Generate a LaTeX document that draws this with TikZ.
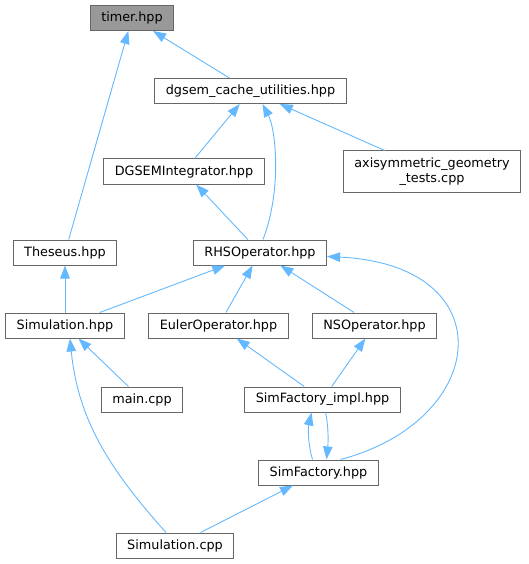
\documentclass[tikz,border=0pt]{standalone}
\usepackage{fontspec}
\setmainfont{DejaVu Sans}
\usetikzlibrary{arrows.meta}
\definecolor{edgeblue}{RGB}{99,184,255}
\definecolor{boxgray}{RGB}{102,102,102}
\definecolor{rootgray}{RGB}{153,153,153}

\begin{document}
\begin{tikzpicture}[x=1pt,y=-1pt,
	file/.style={draw=boxgray,fill=white,line width=1pt,minimum height=25pt,inner xsep=11pt,inner ysep=2pt,font=\fontsize{12.8}{15}\selectfont},
	root/.style={file,fill=rootgray},
	edge/.style={draw=edgeblue,line width=0.9pt,-{Triangle[length=13pt,width=9.5pt]}}]
	\useasboundingbox (0,0) rectangle (529,564);
	% files
	\node[root] (timer) at (132,18) {timer.hpp};
	\node[file] (dgsem) at (250.5,91) {dgsem\_cache\_utilities.hpp};
	\node[file,align=center,minimum height=41pt] (axisym) at (432,171.5) {axisymmetric\_geometry\\\_tests.cpp};
	\node[file] (dgint) at (184,171.5) {DGSEMIntegrator.hpp};
	\node[file] (theseus) at (65,252.5) {Theseus.hpp};
	\node[file] (rhs) at (260,252.5) {RHSOperator.hpp};
	\node[file] (simhpp) at (65,325.5) {Simulation.hpp};
	\node[file] (euler) at (218.5,325.5) {EulerOperator.hpp};
	\node[file] (ns) at (374.5,325.5) {NSOperator.hpp};
	\node[file] (mainc) at (142,399.5) {main.cpp};
	\node[file] (impl) at (322.5,399.5) {SimFactory\_impl.hpp};
	\node[file] (simfac) at (318.5,472.5) {SimFactory.hpp};
	\node[file] (simcpp) at (175,545.5) {Simulation.cpp};
	% includes
	\draw[edge] (theseus) -- (timer);
	\draw[edge] (dgsem) -- (timer);
	\draw[edge] (dgint) -- (dgsem);
	\draw[edge] ([xshift=3pt]rhs.north) .. controls (282,190) and (276,130) .. ([xshift=12pt]dgsem.south);
	\draw[edge] (axisym) -- (dgsem);
	\draw[edge] (rhs) -- (dgint);
	\draw[edge] (simhpp) -- (theseus);
	\draw[edge] (simhpp) -- (rhs);
	\draw[edge] (euler) -- (rhs);
	\draw[edge] (ns) -- (rhs);
	\draw[edge] ([xshift=22pt]simfac.north) .. controls (490,420) and (505,265) .. ([yshift=-4pt]rhs.east);
	\draw[edge] (mainc) -- (simhpp);
	\draw[edge] ([xshift=-9pt]simcpp.north) .. controls (110,470) and (78,420) .. ([xshift=5pt]simhpp.south);
	\draw[edge] (impl) -- (euler);
	\draw[edge] (impl) -- (ns);
	\draw[edge] ([xshift=-6pt]simfac.north) .. controls (308,445) and (308,428) .. ([xshift=-11pt]impl.south);
	\draw[edge] ([xshift=3pt]impl.south) .. controls (329,428) and (328,445) .. ([xshift=8pt]simfac.north);
	\draw[edge] (simcpp) -- (simfac);
\end{tikzpicture}
\end{document}
